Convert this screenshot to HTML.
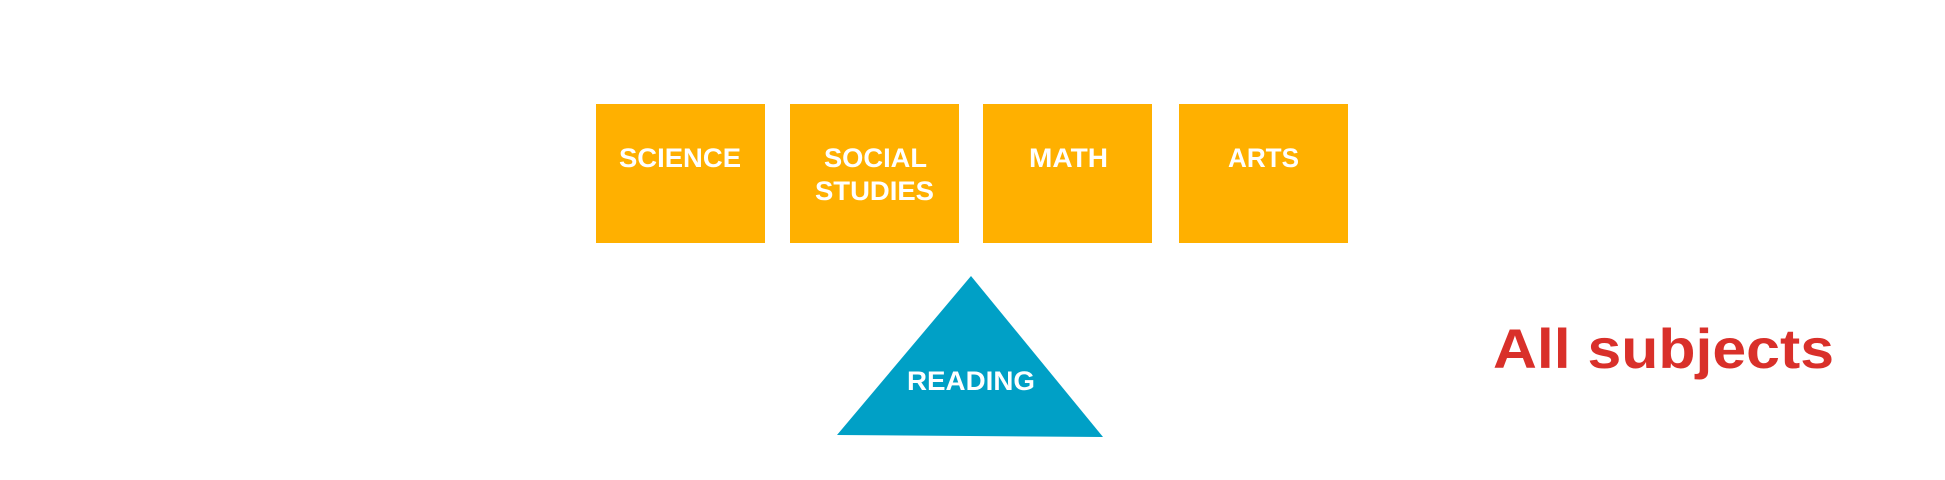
<!DOCTYPE html>
<html><head><style>
body{margin:0;width:1945px;height:480px;background:#fff;position:relative;overflow:hidden;}
</style></head><body>
<svg width="1945" height="480" style="position:absolute;left:0;top:0" font-family="Liberation Sans, sans-serif" font-weight="bold">
<rect x="596" y="104" width="169" height="139" fill="#ffb000"/>
<rect x="790" y="104" width="169" height="139" fill="#ffb000"/>
<rect x="983" y="104" width="169" height="139" fill="#ffb000"/>
<rect x="1179" y="104" width="169" height="139" fill="#ffb000"/>
<g fill="#fff" font-size="27">
<text x="619" y="167" textLength="122" lengthAdjust="spacingAndGlyphs">SCIENCE</text>
<text x="824" y="167" textLength="103" lengthAdjust="spacingAndGlyphs">SOCIAL</text>
<text x="815" y="200" textLength="119" lengthAdjust="spacingAndGlyphs">STUDIES</text>
<text x="1029" y="167" textLength="79" lengthAdjust="spacingAndGlyphs">MATH</text>
<text x="1228" y="167" textLength="71" lengthAdjust="spacingAndGlyphs">ARTS</text>
</g>
<polygon points="971,276 1103,437 837,435" fill="#00a0c6"/>
<text x="907" y="390" fill="#fff" font-size="27" textLength="128" lengthAdjust="spacingAndGlyphs">READING</text>
<text x="1493" y="368" fill="#d9302a" font-size="56" textLength="341" lengthAdjust="spacingAndGlyphs">All subjects</text>
</svg>
</body></html>
